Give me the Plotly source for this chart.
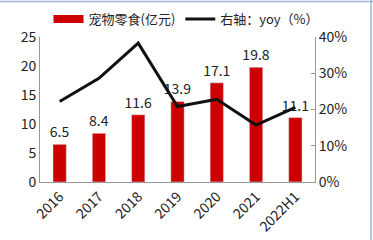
import plotly.graph_objects as go

categories = ["2016", "2017", "2018", "2019", "2020", "2021", "2022H1"]
snack_sales = [6.5, 8.4, 11.6, 13.9, 17.1, 19.8, 11.1]
yoy_pct = [22.2, 28.6, 38.3, 20.8, 22.8, 15.7, 20.6]
left_ticks = [0, 5, 10, 15, 20, 25]
right_ticks = [0, 10, 20, 30, 40]

W, H = 373, 240
L, R, T, B = 40, 58, 37, 58

FONT = "Noto Sans CJK SC, Noto Sans, sans-serif"

fig = go.Figure()
fig.add_trace(go.Bar(
    x=categories, y=snack_sales, name="宠物零食(亿元)", showlegend=False,
    marker=dict(color="#CC0000"), width=0.34,
    text=[f"{v:.1f}" for v in snack_sales], textposition="outside",
    constraintext="none",
    textfont=dict(size=14, color="#222222", family=FONT), cliponaxis=False,
))
# legend entry mimicking the wide red swatch of the reference
fig.add_trace(go.Scatter(
    x=[None], y=[None], name="宠物零食(亿元)", mode="lines",
    line=dict(color="#CC0000", width=8),
))
fig.add_trace(go.Scatter(
    x=categories, y=yoy_pct, name="右轴：yoy（%）", yaxis="y2",
    mode="lines", line=dict(color="#111111", width=3),
))

pw = W - L - R
ph = H - T - B
fig.update_layout(
    width=W, height=H,
    margin=dict(l=L, r=R, t=T, b=B, autoexpand=False),
    paper_bgcolor="white", plot_bgcolor="white",
    font=dict(family=FONT, size=14, color="#222222"),
    showlegend=True,
    legend=dict(orientation="h", x=0.5, xanchor="center", xref="container",
                y=1 - 19 / H, yanchor="middle", yref="container",
                font=dict(size=13), tracegroupgap=0, itemwidth=30,
                bgcolor="rgba(0,0,0,0)"),
    xaxis=dict(showgrid=False, showline=True, linecolor="#999999", linewidth=1,
               tickangle=-45, tickfont=dict(size=14), ticks="",
               range=[-0.5, 6.5]),
    yaxis=dict(range=[0, 25], tickvals=left_ticks, showgrid=False, showline=True,
               linecolor="#999999", linewidth=1, tickfont=dict(size=14),
               zeroline=False, ticks=""),
    yaxis2=dict(range=[0, 40], tickvals=right_ticks,
                ticktext=[f"{v}%" for v in right_ticks],
                overlaying="y", side="right", showgrid=False, showline=True,
                linecolor="#999999", linewidth=1, ticks="inside", ticklen=4,
                tickcolor="#999999", tickfont=dict(size=14), zeroline=False),
)

# light blue frame at top and right edges of the image
fig.add_shape(type="line", xref="paper", yref="paper",
              x0=(0 - L) / pw, x1=(W - L) / pw,
              y0=(H - 1.5 - B) / ph, y1=(H - 1.5 - B) / ph,
              line=dict(color="#9DB4D8", width=1.5))
fig.add_shape(type="line", xref="paper", yref="paper",
              x0=(W - 2 - L) / pw, x1=(W - 2 - L) / pw,
              y0=(0 - B) / ph, y1=(H - B) / ph,
              line=dict(color="#9DB4D8", width=1.5))

fig.write_html("out.html")
